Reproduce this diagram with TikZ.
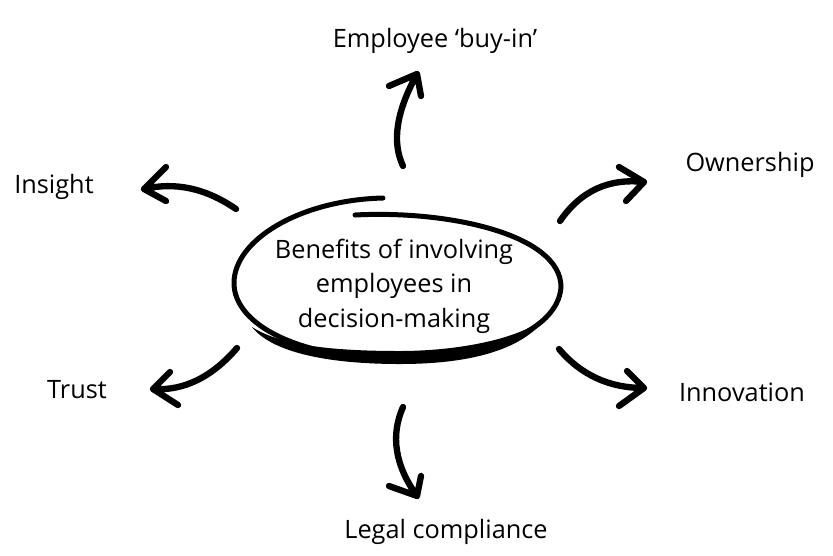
\documentclass[tikz,border=0pt]{standalone}
\usepackage{fontspec}
\setmainfont{Open Sans}
\usetikzlibrary{calc}

\begin{document}
\begin{tikzpicture}[
    x=0.3mm, y=-0.3mm,
    font=\fontsize{21.6}{29.5}\selectfont,
    leaf/.style={anchor=base, inner sep=0pt},
    arrow/.style={line width=1.9mm, line cap=round, line join=round},
    loop/.style={line width=1.5mm, line cap=round}
  ]
  \useasboundingbox (0,0) rectangle (833,555);

  % hand-drawn ring round the topic
  \draw[loop] (355,215) .. controls (450,210) and (561,235) .. (561,287)
    .. controls (558,333) and (480,359) .. (400,359)
    .. controls (300,359) and (234,325) .. (234,283)
    .. controls (234,240) and (300,200) .. (383,198);
  \fill (548,315) .. controls (520,357) and (450,364) .. (400,364)
    .. controls (320,364) and (270,350) .. (252,327)
    .. controls (280,345) and (330,351) .. (400,351)
    .. controls (460,351) and (525,338) .. cycle;

  \node[align=center, inner sep=0pt] (topic) at (394,286) {Benefits of involving\\employees in\\decision-making};

  \node[leaf] (buyin) at (435,47) {Employee ‘buy-in’};
  \node[leaf] (insight) at (54,193) {Insight};
  \node[leaf] (own) at (750,171) {Ownership};
  \node[leaf] (trust) at (77,398) {Trust};
  \node[leaf] (innov) at (742,401) {Innovation};
  \node[leaf] (legal) at (446,538) {Legal compliance};

  % tail, bend, tip and the two barbs of every arrow
  \coordinate (buyin-s) at (403,166); \coordinate (buyin-c) at (386,130); \coordinate (buyin-e) at (417,74);
  \coordinate (buyin-l) at (389,86); \coordinate (buyin-r) at (421,96);
  \coordinate (insight-s) at (236,209); \coordinate (insight-c) at (191,178); \coordinate (insight-e) at (144,189);
  \coordinate (insight-l) at (166,167); \coordinate (insight-r) at (166,201);
  \coordinate (own-s) at (560,221); \coordinate (own-c) at (591,176); \coordinate (own-e) at (644,182);
  \coordinate (own-l) at (619,167); \coordinate (own-r) at (626,201);
  \coordinate (trust-s) at (237,348); \coordinate (trust-c) at (199,392); \coordinate (trust-e) at (153,389);
  \coordinate (trust-l) at (170,372); \coordinate (trust-r) at (178,405);
  \coordinate (innov-s) at (559,349); \coordinate (innov-c) at (592,388); \coordinate (innov-e) at (644,388);
  \coordinate (innov-l) at (627,371); \coordinate (innov-r) at (619,406);
  \coordinate (legal-s) at (403,407); \coordinate (legal-c) at (384,450); \coordinate (legal-e) at (417,496);
  \coordinate (legal-l) at (389,486); \coordinate (legal-r) at (421,476);

  \foreach \a in {buyin,insight,own,trust,innov,legal}
    \draw[arrow] (\a-s) .. controls ($(\a-s)!0.667!(\a-c)$) and ($(\a-e)!0.667!(\a-c)$) .. (\a-e)
      (\a-l) -- (\a-e) -- (\a-r);
\end{tikzpicture}
\end{document}
